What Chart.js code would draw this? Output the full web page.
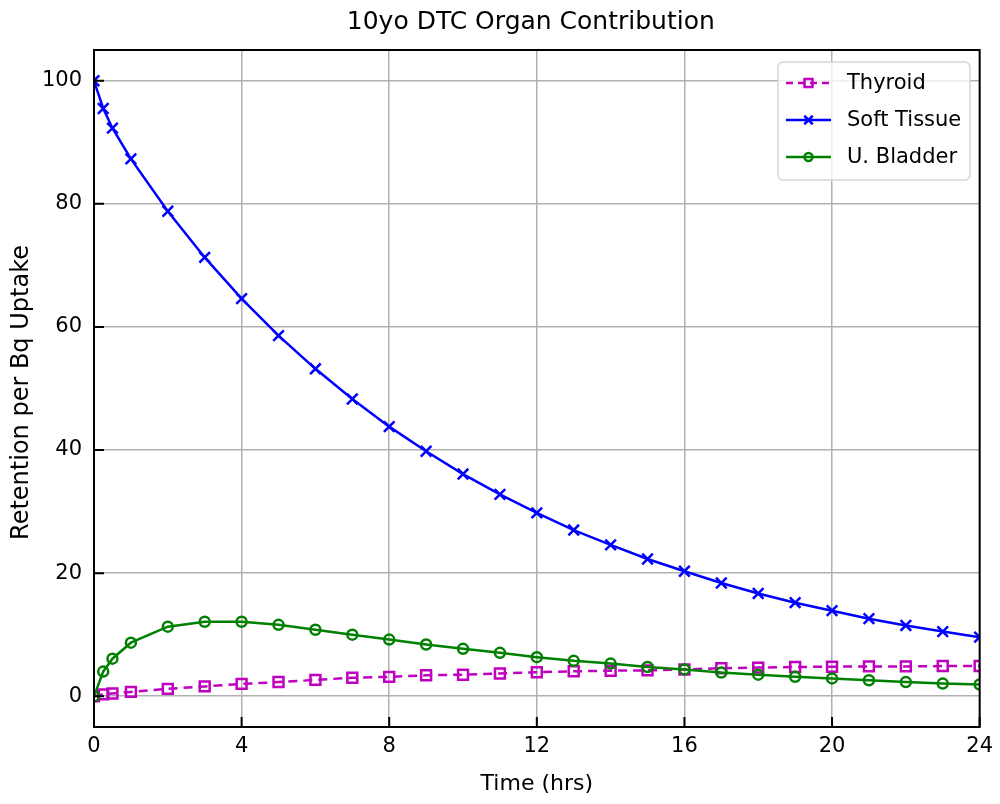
<!DOCTYPE html>
<html>
<head>
<meta charset="utf-8">
<script src="https://cdn.jsdelivr.net/npm/chart.js@4/dist/chart.umd.min.js"></script>
<style>
  html, body { margin: 0; padding: 0; background: #fff; }
  #wrap { width: 1000px; height: 804px; }
</style>
</head>
<body>
<div id="wrap"><canvas id="organChart" width="1000" height="804"></canvas></div>
<script>
// sample times (hrs)
var timeHrs = [0, 0.25, 0.5, 1, 2, 3, 4, 5, 6, 7, 8, 9, 10, 11, 12, 13, 14, 15, 16, 17, 18, 19, 20, 21, 22, 23, 24];

var thyroid = [0, 0.3, 0.45, 0.7, 1.2, 1.6, 2.0, 2.3, 2.65, 3.0, 3.15, 3.4, 3.5, 3.7, 3.9, 4.05, 4.15, 4.2, 4.35, 4.55, 4.65, 4.75, 4.8, 4.85, 4.85, 4.9, 4.9];
var softTissue = [100, 95.5, 92.3, 87.3, 78.8, 71.3, 64.6, 58.6, 53.2, 48.3, 43.8, 39.8, 36.1, 32.8, 29.8, 27.0, 24.6, 22.3, 20.3, 18.4, 16.7, 15.2, 13.9, 12.6, 11.5, 10.5, 9.6];
var bladder = [0, 4.0, 6.1, 8.7, 11.3, 12.1, 12.1, 11.6, 10.8, 10.0, 9.2, 8.4, 7.7, 7.05, 6.35, 5.75, 5.3, 4.75, 4.35, 3.85, 3.5, 3.15, 2.9, 2.6, 2.3, 2.05, 1.9];

var yTicks = [0, 20, 40, 60, 80, 100];
var xTicks = [0, 4, 8, 12, 16, 20, 24];

var chartTitle = '10yo DTC Organ Contribution';
var xTitle = 'Time (hrs)';
var yTitle = 'Retention per Bq Uptake';

function pts(ys) {
    return timeHrs.map(function (t, i) { return { x: t, y: ys[i] }; });
}

var FONT = "'DejaVu Sans', sans-serif";

var series = [
    { label: 'Thyroid', color: '#bf00bf', data: thyroid, style: 'rect', radius: 7, dash: [9, 6], order: 3 },
    { label: 'Soft Tissue', color: '#0000ff', data: softTissue, style: 'crossRot', radius: 7.5, dash: [], order: 2 },
    { label: 'U. Bladder', color: '#008000', data: bladder, style: 'circle', radius: 5, dash: [], order: 1 }
];

var datasets = series.map(function (s) {
    return {
        label: s.label,
        data: pts(s.data),
        borderColor: s.color,
        borderWidth: 2.5,
        borderDash: s.dash,
        pointStyle: s.style,
        pointRadius: s.radius,
        pointBorderWidth: 2.5,
        pointBorderColor: s.color,
        pointBackgroundColor: 'rgba(0,0,0,0)',
        tension: 0,
        order: s.order,
        clip: 0
    };
});

// frame, inward ticks, titles and legend
var decorations = {
    id: 'decorations',
    afterDatasetsDraw: function (chart) {
        var ctx = chart.ctx;
        var a = chart.chartArea;
        var xs = chart.scales.x, ys = chart.scales.y;
        ctx.save();

        ctx.strokeStyle = '#000';
        ctx.lineWidth = 2;
        ctx.beginPath();
        xTicks.forEach(function (v) {
            var px = xs.getPixelForValue(v);
            ctx.moveTo(px, a.bottom);
            ctx.lineTo(px, a.bottom - 10);
        });
        yTicks.forEach(function (v) {
            var py = ys.getPixelForValue(v);
            ctx.moveTo(a.left, py);
            ctx.lineTo(a.left + 10, py);
        });
        ctx.stroke();
        ctx.strokeRect(a.left, a.top, a.right - a.left, a.bottom - a.top);

        ctx.fillStyle = '#000';
        ctx.textAlign = 'center';
        ctx.textBaseline = 'middle';
        ctx.font = '25px ' + FONT;
        ctx.fillText(chartTitle, (a.left + a.right) / 2 - 6, 22);
        ctx.font = '22px ' + FONT;
        ctx.fillText(xTitle, (a.left + a.right) / 2, 784);
        ctx.save();
        ctx.translate(22, (a.top + a.bottom) / 2 + 4);
        ctx.rotate(-Math.PI / 2);
        ctx.font = '24px ' + FONT;
        ctx.fillText(yTitle, 0, 0);
        ctx.restore();

        // legend box
        var bx = 778, by = 62, bw = 192, bh = 118, r = 5;
        ctx.beginPath();
        ctx.moveTo(bx + r, by);
        ctx.arcTo(bx + bw, by, bx + bw, by + bh, r);
        ctx.arcTo(bx + bw, by + bh, bx, by + bh, r);
        ctx.arcTo(bx, by + bh, bx, by, r);
        ctx.arcTo(bx, by, bx + bw, by, r);
        ctx.closePath();
        ctx.fillStyle = 'rgba(255,255,255,0.8)';
        ctx.fill();
        ctx.strokeStyle = '#d6d6d6';
        ctx.lineWidth = 1.5;
        ctx.stroke();

        ctx.textAlign = 'left';
        ctx.font = '21px ' + FONT;
        series.forEach(function (s, i) {
            var cy = 83 + i * 37;
            ctx.strokeStyle = s.color;
            ctx.lineWidth = 2.5;
            ctx.setLineDash(s.dash.length ? [7, 5] : []);
            ctx.beginPath();
            ctx.moveTo(786, cy);
            ctx.lineTo(831, cy);
            ctx.stroke();
            ctx.setLineDash([]);
            ctx.fillStyle = 'rgba(0,0,0,0)';
            Chart.helpers.drawPoint(ctx, {
                pointStyle: s.style,
                radius: s.radius * 0.8,
                borderWidth: 2.5
            }, 808.5, cy);
            ctx.fillStyle = '#000';
            ctx.fillText(s.label, 847, cy + 1);
        });
        ctx.restore();
    }
};

var organChart = new Chart(document.getElementById('organChart').getContext('2d'), {
    type: 'line',
    data: { datasets: datasets },
    options: {
        responsive: false,
        animation: false,
        layout: { padding: { top: 50, right: 20, left: 0, bottom: 0 } },
        plugins: {
            legend: { display: false },
            title: { display: false },
            tooltip: { enabled: false }
        },
        scales: {
            x: {
                type: 'linear',
                min: 0,
                max: 24,
                afterBuildTicks: function (scale) {
                    scale.ticks = xTicks.map(function (v) { return { value: v }; });
                },
                afterFit: function (scale) { scale.height = 77; },
                grid: { color: '#b0b0b0', lineWidth: 1.5, drawTicks: false },
                border: { display: false },
                ticks: { color: '#000', font: { family: FONT, size: 21 }, padding: 7, maxRotation: 0 }
            },
            y: {
                type: 'linear',
                min: -5,
                max: 105,
                afterBuildTicks: function (scale) {
                    scale.ticks = yTicks.map(function (v) { return { value: v }; });
                },
                afterFit: function (scale) { scale.width = 94; },
                grid: { color: '#b0b0b0', lineWidth: 1.5, drawTicks: false },
                border: { display: false },
                ticks: { color: '#000', font: { family: FONT, size: 21 }, padding: 12 }
            }
        }
    },
    plugins: [decorations]
});
</script>
</body>
</html>
